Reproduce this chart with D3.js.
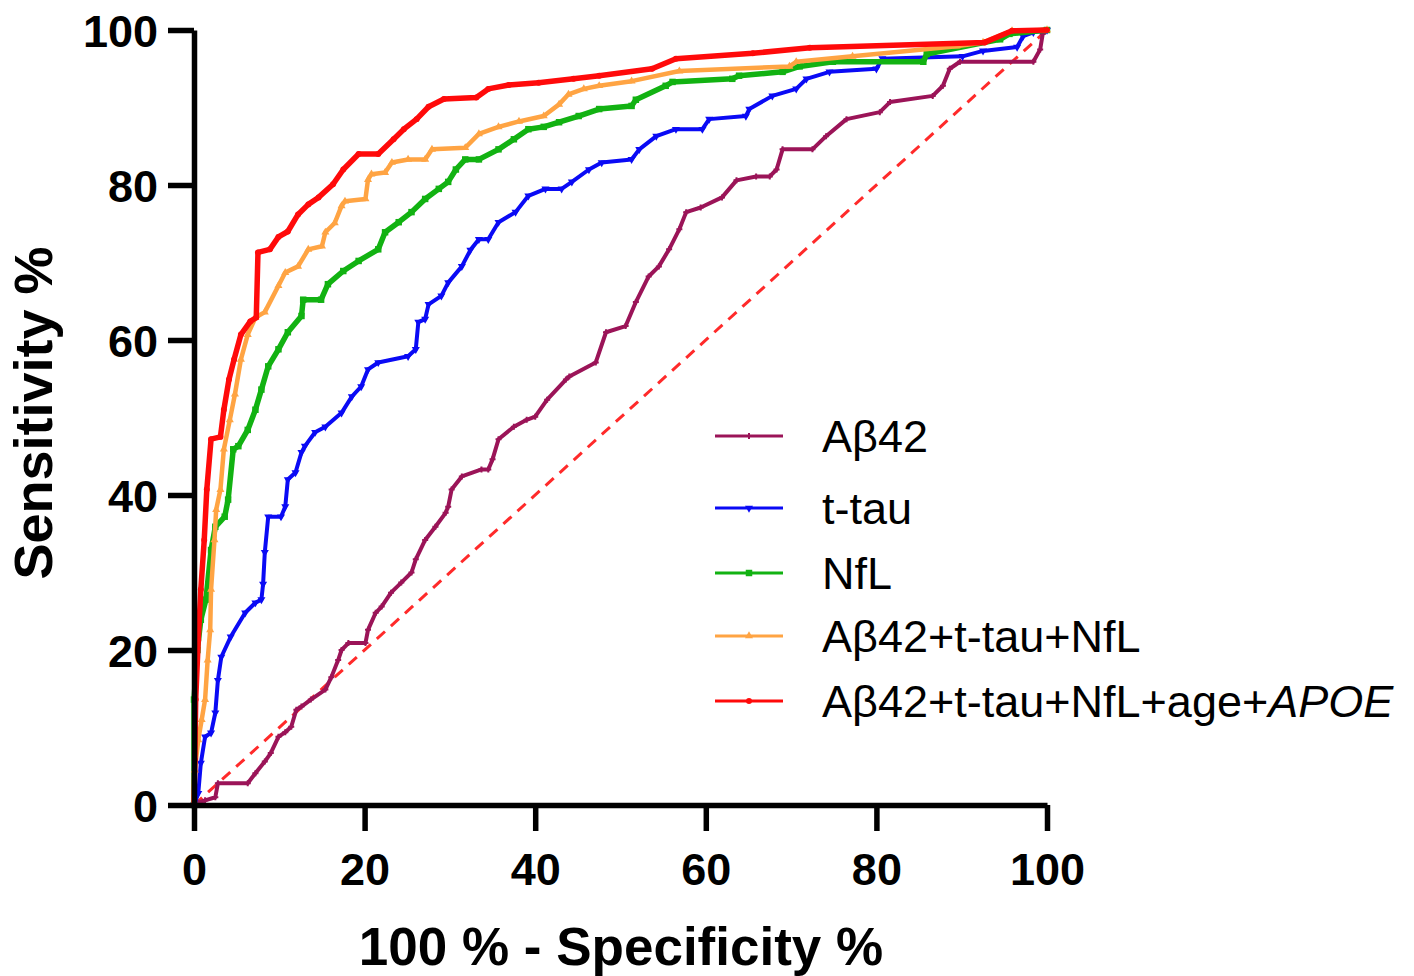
<!DOCTYPE html>
<html>
<head>
<meta charset="utf-8">
<script src="https://d3js.org/d3.v7.min.js"></script>
<style>
  body { margin: 0; background: #fff; }
  svg { display: block; }
  text { font-family: "Liberation Sans", Arial, sans-serif; }
</style>
</head>
<body>
<div id="chart"></div>
<script>
// ROC curves, values: [100% - specificity, sensitivity]
var abeta42 = [[0,0],[0.5,0.3],[1.3,0.6],[2.5,1.0],[2.8,2.8],[6.3,2.8],[7.2,4.1],[8.3,5.6],[9.0,6.7],[9.9,8.8],[10.7,9.4],[11.4,10.1],[12.0,12.3],[12.6,12.7],[13.7,13.6],[15.4,14.9],[16.1,16.5],[16.9,18.7],[17.3,20.0],[18.1,20.9],[20.1,20.9],[20.4,22.6],[21.3,24.8],[22.0,25.6],[23.1,27.4],[24.3,28.7],[25.5,30.0],[26.0,31.7],[27.1,34.2],[28.3,35.9],[29.5,37.7],[29.8,38.5],[30.2,40.7],[31.4,42.4],[33.7,43.3],[34.5,43.3],[35.0,44.6],[35.7,47.2],[37.5,48.8],[39.0,49.7],[40.0,50.1],[41.4,52.3],[43.6,54.9],[44.0,55.3],[47.1,57.1],[48.3,61.0],[50.6,61.8],[51.8,64.9],[53.3,68.2],[54.5,69.5],[55.7,71.7],[56.9,74.3],[57.7,76.5],[59.4,77.1],[61.9,78.4],[63.6,80.6],[65.9,81.1],[67.5,81.1],[68.3,82.0],[69.0,84.6],[72.5,84.6],[74.1,86.3],[76.5,88.5],[80.4,89.4],[81.6,90.7],[86.6,91.5],[87.8,92.8],[88.6,95.0],[89.8,95.9],[98.4,95.9],[99.2,97.5],[99.5,99.5],[100,100]];

var ttau = [[0,0],[0.5,1.5],[0.8,5.4],[1.3,8.8],[2.0,9.3],[2.5,11.9],[2.8,16.1],[3.2,19.1],[4.3,21.7],[6.0,24.8],[7.2,26.1],[7.9,26.5],[8.1,28.5],[8.3,32.6],[8.7,37.2],[10.2,37.2],[10.7,38.5],[11.0,42.0],[11.9,42.9],[12.6,45.5],[13.0,46.3],[14.2,48.1],[15.4,48.8],[17.3,50.6],[18.5,52.7],[19.6,54.0],[20.4,56.2],[21.6,57.1],[25.1,57.9],[26.0,58.8],[26.3,62.3],[27.1,62.7],[27.5,64.6],[29.0,65.7],[29.8,67.4],[31.4,69.5],[32.4,71.6],[33.4,73.0],[34.5,73.0],[35.7,75.2],[37.7,76.5],[39.2,78.6],[41.2,79.5],[43.1,79.5],[44.3,80.4],[46.3,82.0],[47.8,82.9],[51.3,83.3],[52.2,84.6],[54.2,86.3],[56.5,87.2],[59.6,87.2],[60.4,88.5],[64.7,88.9],[65.1,89.8],[67.8,91.5],[70.6,92.4],[71.8,93.7],[74.5,94.6],[80.0,95.0],[80.7,96.3],[90.1,96.6],[92.5,97.3],[96.5,97.8],[97.2,99.2],[98.4,99.7],[100,100]];

var nfl = [[0,0],[0,13.6],[0.4,20.0],[0.8,23.9],[1.4,26.5],[2.0,32.9],[2.5,35.9],[3.6,37.2],[4.0,39.4],[4.6,45.9],[5.2,46.3],[6.3,48.4],[7.2,51.0],[7.9,53.6],[8.7,56.6],[9.9,58.8],[11.0,61.0],[12.6,63.1],[12.8,65.2],[14.9,65.2],[15.7,67.2],[17.5,68.9],[19.3,70.2],[21.6,71.7],[22.4,73.9],[24.0,75.2],[25.5,76.5],[27.1,78.2],[28.7,79.5],[29.8,80.4],[30.7,82.0],[31.8,83.3],[33.4,83.3],[35.7,84.6],[37.5,85.9],[39.2,87.2],[41.0,87.5],[42.8,88.1],[45.1,88.9],[47.5,89.8],[51.3,90.2],[51.8,91.0],[55.3,92.8],[56.1,93.3],[63.1,93.7],[63.9,94.1],[69.0,94.6],[71.0,95.3],[74.9,95.9],[85.5,95.9],[85.9,96.9],[94.5,98.8],[95.6,99.5],[100,100]];

var combo = [[0,0],[0.1,4.5],[0.5,8.4],[0.9,11.0],[1.3,13.6],[1.6,18.7],[1.9,22.6],[2.0,27.8],[2.4,34.2],[2.6,38.1],[3.1,40.7],[3.5,45.9],[4.2,49.7],[4.8,53.0],[5.5,57.5],[6.3,60.7],[7.2,62.9],[8.3,63.6],[9.9,67.0],[10.7,68.7],[12.2,69.5],[13.4,71.7],[15.0,72.1],[15.4,73.9],[16.5,75.1],[17.3,77.3],[17.7,77.9],[20.1,78.2],[20.4,80.7],[20.8,81.4],[22.4,81.6],[23.2,82.9],[25.1,83.3],[27.1,83.3],[27.9,84.6],[31.8,84.8],[33.4,86.6],[35.7,87.5],[38.1,88.2],[41.0,88.9],[42.8,90.4],[43.9,91.7],[45.7,92.4],[47.5,92.8],[51.3,93.4],[56.9,94.7],[69.8,95.3],[70.6,95.9],[77.2,96.6],[89.4,97.9],[92.5,98.4],[95.9,99.9],[100,100]];

var comboAge = [[0,0],[0.1,5.8],[0.2,13.6],[0.5,21.3],[0.8,27.8],[1.2,34.2],[1.5,40.7],[2.0,47.2],[3.1,47.5],[3.5,51.0],[4.1,54.9],[4.7,57.5],[5.5,60.7],[6.6,62.4],[7.3,62.9],[7.5,71.3],[8.9,71.7],[9.9,73.3],[11.0,74.0],[12.2,76.2],[13.4,77.5],[14.6,78.4],[16.3,80.1],[17.5,82.0],[19.3,84.0],[21.6,84.0],[23.4,85.9],[24.6,87.2],[26.1,88.5],[27.5,90.1],[29.3,91.1],[33.1,91.3],[34.5,92.4],[36.9,92.9],[40.4,93.2],[44.5,93.7],[47.5,94.1],[53.7,95.0],[56.5,96.3],[65.5,97.0],[72.2,97.7],[92.7,98.4],[95.9,99.9],[100,100]];

var chance = [[0,0],[100,100]];
var ticks = [0, 20, 40, 60, 80, 100];

var series = [
  {name: "Aβ42", pts: abeta42, color: "#9b1458", w: 4, sym: d3.symbolCross, size: 20},
  {name: "t-tau", pts: ttau, color: "#0a0af5", w: 4, sym: d3.symbolTriangle, size: 28, rot: 180},
  {name: "NfL", pts: nfl, color: "#12b212", w: 5.5, sym: d3.symbolSquare, size: 42},
  {name: "Aβ42+t-tau+NfL", pts: combo, color: "#ffa443", w: 4.5, sym: d3.symbolTriangle, size: 28},
  {name: "Aβ42+t-tau+NfL+age+", italic: "APOE", pts: comboAge, color: "#ff0a0a", w: 5.5, sym: d3.symbolCircle, size: 28}
];

var svg = d3.select("#chart").append("svg")
    .attr("width", 1414)
    .attr("height", 976);

var x = d3.scaleLinear().domain([0, 100]).range([194, 1047]);
var y = d3.scaleLinear().domain([0, 100]).range([805, 30]);

var line = d3.line()
    .x(function(d) { return x(d[0]); })
    .y(function(d) { return y(d[1]); });

// diagonal reference line
svg.append("path")
    .attr("d", line(chance))
    .attr("fill", "none")
    .attr("stroke", "#ff2a2a")
    .attr("stroke-width", 3)
    .attr("stroke-dasharray", "11,8");

series.forEach(function(s) {
  svg.append("path")
      .attr("d", line(s.pts))
      .attr("fill", "none")
      .attr("stroke", s.color)
      .attr("stroke-width", s.w)
      .attr("stroke-linejoin", "round");

  svg.append("g").selectAll("path")
      .data(s.pts)
      .enter().append("path")
      .attr("d", d3.symbol().type(s.sym).size(s.size))
      .attr("transform", function(d) {
        return "translate(" + x(d[0]) + "," + y(d[1]) + ")" + (s.rot ? " rotate(" + s.rot + ")" : "");
      })
      .attr("fill", s.color);
});

// axes
var xAxis = svg.append("g")
    .attr("transform", "translate(0,805)")
    .call(d3.axisBottom(x).tickValues(ticks).tickSize(26).tickPadding(22).tickSizeOuter(0));
var yAxis = svg.append("g")
    .attr("transform", "translate(194,0)")
    .call(d3.axisLeft(y).tickValues(ticks).tickSize(26).tickPadding(10).tickSizeOuter(0));

[xAxis, yAxis].forEach(function(a) {
  a.select(".domain").attr("stroke", "#000").attr("stroke-width", 5.5);
  a.selectAll(".tick line").attr("stroke", "#000").attr("stroke-width", 5.5);
  a.selectAll(".tick text")
      .attr("fill", "#000")
      .style("font-size", "45px")
      .style("font-weight", "bold")
      .style("font-family", "'Liberation Sans', Arial, sans-serif");
});
yAxis.selectAll(".tick text").attr("dy", "0.36em");

svg.append("text")
    .attr("x", 621)
    .attr("y", 965)
    .attr("text-anchor", "middle")
    .style("font-size", "53px")
    .style("font-weight", "bold")
    .text("100 % - Specificity %");

svg.append("text")
    .attr("transform", "translate(52,413) rotate(-90)")
    .attr("text-anchor", "middle")
    .style("font-size", "54px")
    .style("font-weight", "bold")
    .text("Sensitivity %");

// legend
var legendY = [436, 508, 573, 636, 701];
var legend = svg.append("g");
series.forEach(function(s, i) {
  var g = legend.append("g").attr("transform", "translate(0," + legendY[i] + ")");
  g.append("line")
      .attr("x1", 715).attr("x2", 783)
      .attr("stroke", s.color)
      .attr("stroke-width", 3);
  g.append("path")
      .attr("d", d3.symbol().type(s.sym).size(s.size))
      .attr("transform", "translate(749,0)" + (s.rot ? " rotate(" + s.rot + ")" : ""))
      .attr("fill", s.color);
  var t = g.append("text")
      .attr("x", 822)
      .attr("dy", "0.36em")
      .style("font-size", "45px")
      .attr("fill", "#000")
      .text(s.name);
  if (s.italic) {
    t.append("tspan").style("font-style", "italic").text(s.italic);
  }
});
</script>
</body>
</html>
